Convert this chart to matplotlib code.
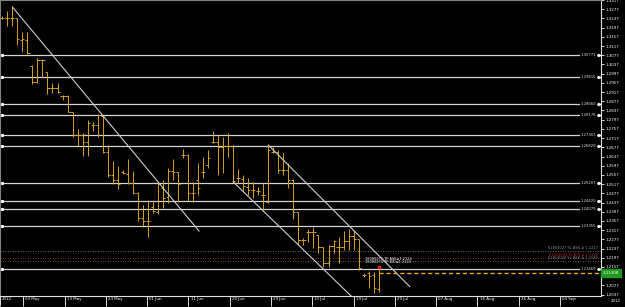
import numpy as np
import matplotlib.pyplot as plt
from matplotlib.transforms import ScaledTranslation, blended_transform_factory

# daily bars (index 0 = first bar on the chart)
opens = [1.3238, 1.3239, 1.3239, 1.3239, 1.3145, 1.3145, 1.3030, 1.2960, 1.3058, 1.3004,
         1.2933, 1.2934, 1.2902, 1.2899, 1.2830, 1.2730, 1.2730, 1.2700, 1.2773, 1.2773,
         1.2813, 1.2658, 1.2557, 1.2535, 1.2570, 1.2561, 1.2522, 1.2478, 1.2371, 1.2357,
         1.2419, 1.2396, 1.2500, 1.2462, 1.2574, 1.2568, 1.2643, 1.2643, 1.2477, 1.2535,
         1.2570, 1.2600, 1.2701, 1.2701, 1.2677, 1.2682, 1.2682, 1.2542, 1.2538, 1.2506,
         1.2491, 1.2487, 1.2470, 1.2441, 1.2658, 1.2658, 1.2578, 1.2578, 1.2535, 1.2396,
         1.2274, 1.2310, 1.2310, 1.2296, 1.2243, 1.2173, 1.2248, 1.2245, 1.2245, 1.2271,
         1.2292, 1.2277, 1.2123, 1.2130, 1.2123, 1.2060]
highs = [1.3248, 1.3268, 1.3287, 1.3240, 1.3178, 1.3176, 1.3034, 1.3063, 1.3060, 1.3004,
         1.2956, 1.2956, 1.2904, 1.2904, 1.2830, 1.2756, 1.2739, 1.2795, 1.2786, 1.2821,
         1.2817, 1.2687, 1.2617, 1.2596, 1.2578, 1.2625, 1.2574, 1.2484, 1.2426, 1.2448,
         1.2441, 1.2527, 1.2535, 1.2586, 1.2626, 1.2568, 1.2669, 1.2646, 1.2527, 1.2607,
         1.2636, 1.2665, 1.2747, 1.2730, 1.2723, 1.2740, 1.2687, 1.2581, 1.2556, 1.2542,
         1.2527, 1.2506, 1.2520, 1.2687, 1.2679, 1.2665, 1.2651, 1.2607, 1.2539, 1.2397,
         1.2282, 1.2322, 1.2329, 1.2296, 1.2243, 1.2253, 1.2274, 1.2286, 1.2315, 1.2321,
         1.2318, 1.2277, 1.2130, 1.2141, 1.2137, 1.2159]
lows = [1.3234, 1.3204, 1.3204, 1.3121, 1.3092, 1.3082, 1.2954, 1.2957, 1.2981, 1.2909,
        1.2912, 1.2915, 1.2882, 1.2830, 1.2721, 1.2682, 1.2640, 1.2639, 1.2747, 1.2721,
        1.2652, 1.2549, 1.2516, 1.2494, 1.2560, 1.2517, 1.2474, 1.2357, 1.2332, 1.2286,
        1.2390, 1.2386, 1.2412, 1.2434, 1.2535, 1.2441, 1.2629, 1.2445, 1.2441, 1.2470,
        1.2542, 1.2586, 1.2694, 1.2557, 1.2564, 1.2636, 1.2527, 1.2523, 1.2484, 1.2470,
        1.2455, 1.2470, 1.2405, 1.2434, 1.2651, 1.2564, 1.2557, 1.2499, 1.2366, 1.2253,
        1.2253, 1.2267, 1.2238, 1.2217, 1.2159, 1.2159, 1.2217, 1.2173, 1.2231, 1.2231,
        1.2231, 1.2144, 1.2115, 1.2065, 1.2043, 1.2050]
closes = [1.3238, 1.3239, 1.3238, 1.3147, 1.3147, 1.3085, 1.2960, 1.3058, 1.3056, 1.2933,
          1.2933, 1.2917, 1.2899, 1.2830, 1.2730, 1.2730, 1.2700, 1.2782, 1.2773, 1.2817,
          1.2656, 1.2557, 1.2535, 1.2516, 1.2564, 1.2520, 1.2477, 1.2371, 1.2357, 1.2357,
          1.2400, 1.2516, 1.2458, 1.2574, 1.2570, 1.2516, 1.2643, 1.2477, 1.2477, 1.2499,
          1.2571, 1.2629, 1.2701, 1.2677, 1.2682, 1.2682, 1.2530, 1.2542, 1.2509, 1.2491,
          1.2491, 1.2487, 1.2470, 1.2665, 1.2658, 1.2578, 1.2578, 1.2535, 1.2396, 1.2274,
          1.2274, 1.2310, 1.2310, 1.2245, 1.2173, 1.2248, 1.2270, 1.2245, 1.2271, 1.2292,
          1.2277, 1.2152, 1.2123, 1.2118, 1.2065, 1.21308]

# horizontal lines drawn on the chart
levels = [1.30771, 1.29815, 1.28660, 1.28178, 1.27303, 1.26829,
          1.25207, 1.24420, 1.24079, 1.23355, 1.21469]

# pending order lines (dotted)
order_prices = [1.2227, 1.2196, 1.2183]
order_labels = ["61804027 SL ASK ≥ 1.2227", "61814029 SL BID ≤ 1.2196", "61814028 SL ASK ≥ 1.2183"]
order_colors = ["#8a8a8a", "#b02020", "#8a8a8a"]

# trend lines: (bar, price) -> (bar, price)
trend_x0 = [2, 46, 53]
trend_p0 = [1.3287, 1.2527, 1.2687]
trend_x1 = [39.2, 69.7, 81.2]
trend_p1 = [1.2313, 1.2027, 1.2072]

date_pos = [-0.46, 4.18, 12.41, 20.64, 28.86, 37.09, 45.32, 53.55,
            61.77, 70.0, 78.23, 86.45, 94.68, 102.9, 111.1]
date_labels = ["2012", "03 May", "13 May", "23 May", "01 Jun", "11 Jun", "20 Jun", "29 Jun",
               "10 Jul", "19 Jul", "29 Jul", "07 Aug", "16 Aug", "26 Aug", "04 Sep"]

price_ticks = np.round(np.arange(1.2037, 1.3320, 0.004), 4)

bar_col = "#d8a21c"
fig = plt.figure(figsize=(6.25, 3.07), dpi=100, facecolor="black")
ax = fig.add_axes([0, 11 / 307, 601 / 625, 296 / 307], facecolor="black")

idx = np.arange(len(opens))
ax.vlines(idx, lows, highs, color=bar_col, lw=0.7)
ax.hlines(opens, idx - 0.42, idx, color=bar_col, lw=0.7)
ax.hlines(closes, idx, idx + 0.42, color=bar_col, lw=0.7)

xmax = 119.3
tr = blended_transform_factory(ax.transAxes, ax.transData)
for lv in levels:
    ax.axhline(lv, color="#d4d4d4", lw=0.9, zorder=1)
    ax.text(0.992, lv, f"{lv:.5f}", transform=tr, ha="right", va="center", color="#e0e0e0",
            fontsize=2.7, bbox=dict(facecolor="black", edgecolor="none", pad=0.6))
    ax.plot([0.997], [lv], marker=">", ms=1.6, color="white", transform=tr, clip_on=False)
    ax.plot([0.004], [lv], marker="s", ms=1.2, color="white", transform=tr)

for p, lab, c in zip(order_prices, order_labels, order_colors):
    ax.axhline(p, color=c, lw=0.6, ls=(0, (1, 2)), zorder=1)
    ax.text(0.995, p + 0.0003, lab, transform=tr, ha="right", va="bottom", color=c, fontsize=2.6)

ax.text(72.2, 1.2190, "16080271 TP ASK≥1.2124", color="white", fontsize=2.5, va="center")
ax.text(72.2, 1.2178, "16080274 TP BID≤1.2124", color="white", fontsize=2.5, va="center")

for a, b, c, d in zip(trend_x0, trend_p0, trend_x1, trend_p1):
    ax.plot([a, c], [b, d], color="#cfcfcf", lw=0.8)

# current price
last = closes[-1]
ax.hlines(last, idx[-1], xmax, colors="#e8a817", lw=1.0, linestyles=(0, (3, 2)))
ax.plot(idx[-1], highs[-1], marker="s", ms=1.5, color="#e02020")
ax.text(1.003, last, f"{last:.5f}", transform=tr, ha="left", va="center", color="white",
        fontsize=2.8, clip_on=False,
        bbox=dict(facecolor="#1f9a1f", edgecolor="#1f9a1f", pad=1.2))

ax.set_xlim(-0.46, xmax)
ax.set_ylim(1.2031, 1.3317)

ax.yaxis.tick_right()
ax.set_yticks(price_ticks)
ax.set_yticklabels([f"{v:.4f}" for v in price_ticks])
ax.tick_params(axis="y", colors="white", labelsize=2.9, length=1.8, width=0.6, pad=1.5)

ax.set_xticks(date_pos)
ax.set_xticklabels(date_labels)
ax.tick_params(axis="x", colors="white", labelsize=2.9, length=7, width=0.6, pad=-6.5)
off = ScaledTranslation(1.5 / 72, 0, fig.dpi_scale_trans)
for lbl in ax.get_xticklabels():
    lbl.set_horizontalalignment("left")
    lbl.set_transform(lbl.get_transform() + off)

for side in ["right", "bottom"]:
    ax.spines[side].set_color("#e0e0e0")
    ax.spines[side].set_linewidth(0.8)
for side in ["left", "top"]:
    ax.spines[side].set_color("#808080")
    ax.spines[side].set_linewidth(0.8)

fig.text(611 / 625, 1 - 301 / 307, "2012", color="white", fontsize=2.9, va="center")

fig.savefig("out.png", dpi=100, facecolor="black")
